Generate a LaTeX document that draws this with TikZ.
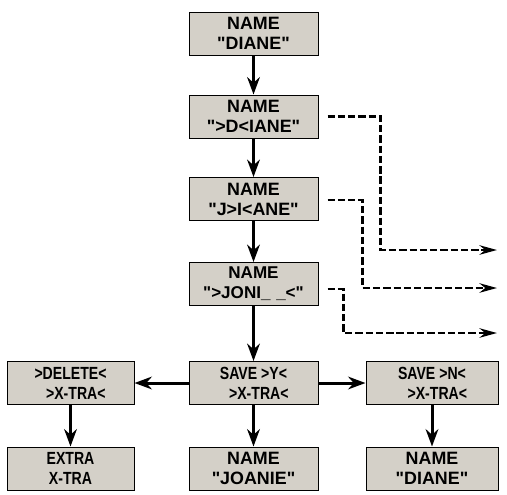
\documentclass[tikz,border=0pt]{standalone}
\usepackage{fontspec}
\setmainfont{Liberation Sans}[Ligatures=TeXOff]
\newfontfamily\narrowfont{Liberation Sans}[FakeStretch=0.8,Ligatures=TeXOff]
\usetikzlibrary{arrows.meta}
\definecolor{panelgray}{RGB}{212,208,200}

\tikzset{every picture/.style={line width=0.75pt}}
\tikzset{
  screen/.style={draw, fill=panelgray, minimum width=96.75pt, minimum height=32.25pt, inner sep=0pt, align=center, font=\bfseries\fontsize{13.4}{15}\selectfont},
  narrowscreen/.style={screen, font=\narrowfont\bfseries\fontsize{13.2}{15}\selectfont},
  flow/.style={line width=2.25pt, -{Stealth[length=13pt,width=9.5pt]}},
  branch/.style={line width=2.2pt, dash pattern=on 5.5pt off 2.2pt, -{Stealth[length=13pt,width=7pt]}}
}

\begin{document}
\begin{tikzpicture}[x=0.75pt,y=0.75pt,yscale=-1,xscale=1]
\useasboundingbox (0,0) rectangle (507,494);

% Screens
\node[screen] (n1) at (253.5,33.5) {NAME\\"DIANE"};
\node[screen] (n2) at (253.5,116.5) {NAME\\">D<IANE"};
\node[screen] (n3) at (253.5,199) {NAME\\"J>I<ANE"};
\node[screen, font=\bfseries\fontsize{12.8}{15}\selectfont] (n4) at (253.5,284) {NAME\\">JONI\_\,\,\_<"};
\node[narrowscreen, minimum width=95.25pt] (del) at (70.5,383) {>DELETE<\\\hspace*{8pt}>X-TRA<};
\node[narrowscreen] (sy) at (253.5,383) {SAVE >Y<\\\hspace*{8pt}>X-TRA<};
\node[narrowscreen, minimum width=99pt] (sn) at (432,383) {SAVE >N<\\\hspace*{8pt}>X-TRA<};
\node[narrowscreen, minimum width=95.25pt] (ex) at (70.5,468.5) {EXTRA\\X-TRA};
\node[screen] (jo) at (253.5,468.5) {NAME\\"JOANIE"};
\node[screen, minimum width=99pt] (di) at (432,468.5) {NAME\\"DIANE"};

% Main flow
\draw[flow] (n1) -- (n2);
\draw[flow] (n2) -- (n3);
\draw[flow] (n3) -- (n4);
\draw[flow] (n4) -- (sy);
\draw[flow] (sy) -- (del);
\draw[flow] (sy) -- (sn);
\draw[flow] (del) -- (ex);
\draw[flow] (sy) -- (jo);
\draw[flow] (sn) -- (di);

% Dashed exits
\coordinate (o1) at (497,250);
\coordinate (o2) at (497,288);
\coordinate (o3) at (497,333);
\draw[branch] ([xshift=6.75pt]n2.east) -- ++(53,0) |- (o1);
\draw[branch] ([xshift=6.75pt,yshift=0.75pt]n3.east) -- ++(35,0) |- (o2);
\draw[branch] ([xshift=6.75pt,yshift=3.75pt]n4.east) -- ++(16,0) |- (o3);

\end{tikzpicture}
\end{document}
